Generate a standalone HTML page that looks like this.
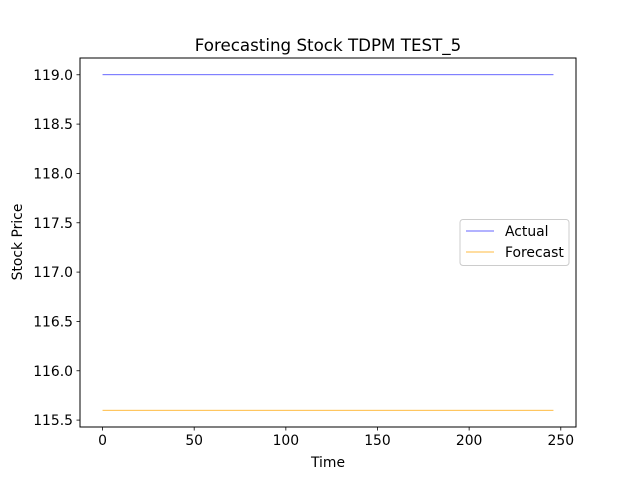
<!DOCTYPE html>
<html><head><meta charset="utf-8"><style>
body{margin:0;background:#fff}
svg text{font-family:"DejaVu Sans","Liberation Sans",sans-serif;fill:#000}
</style></head><body>
<svg id="chart" width="640" height="480" xmlns="http://www.w3.org/2000/svg">
<rect width="640" height="480" fill="#fff"/>
<text x="328" y="51" font-size="16.7" text-anchor="middle">Forecasting Stock TDPM TEST_5</text>
<g id="plot"></g>
<rect x="80" y="58" width="496" height="369" fill="none" stroke="#000" stroke-width="1"/>
<text x="328" y="467" font-size="13.9" text-anchor="middle">Time</text>
<text x="0" y="0" font-size="13.9" text-anchor="middle" transform="translate(22,242) rotate(-90)">Stock Price</text>
<g>
<rect x="460" y="219.5" width="109" height="46" rx="3" fill="#fff" fill-opacity="0.8" stroke="#ccc"/>
<line x1="466" y1="231" x2="494" y2="231" stroke="blue" stroke-width="0.8" stroke-opacity="0.8"/>
<text x="505" y="236" font-size="13.9">Actual</text>
<line x1="466" y1="252" x2="494" y2="252" stroke="orange" stroke-width="0.8"/>
<text x="505" y="257" font-size="13.9">Forecast</text>
</g>
</svg>
<script>
const N = 247;
const actualValues = new Array(N).fill(119.0);
const forecastValues = new Array(N).fill(115.6);
const xTicks = [0, 50, 100, 150, 200, 250];
const yTicks = [115.5, 116.0, 116.5, 117.0, 117.5, 118.0, 118.5, 119.0];
const yTickLabels = ["115.5","116.0","116.5","117.0","117.5","118.0","118.5","119.0"];

const L=80,R=576,T=58,B=427;
const xmin=-12.3,xmax=258.3,ymin=115.43,ymax=119.17;
const sx=v=>L+(v-xmin)/(xmax-xmin)*(R-L);
const sy=v=>B-(v-ymin)/(ymax-ymin)*(B-T);
const NS="http://www.w3.org/2000/svg";
const g=document.getElementById('plot');
function mk(t,a){const e=document.createElementNS(NS,t);for(const k in a)e.setAttribute(k,a[k]);return e;}
xTicks.forEach(v=>{
  const l=mk('line',{x1:sx(v),x2:sx(v),y1:B,y2:B+3.5,stroke:'#000','stroke-width':0.8});
  
  
  g.appendChild(l);
  const t=mk('text',{x:sx(v),y:B+18,'font-size':13.9,'text-anchor':'middle'});
  t.textContent=v;
  
  
  g.appendChild(t);
});
yTicks.forEach((v,i)=>{
  const l=mk('line',{x1:L-3.5,x2:L,y1:sy(v),y2:sy(v),stroke:'#000','stroke-width':0.8});
  
  
  g.appendChild(l);
  const t=mk('text',{x:L-7,y:sy(v)+5,'font-size':13.9,'text-anchor':'end'});
  t.textContent=yTickLabels[i];
  
  
  g.appendChild(t);
});
function series(vals,color,name,op){
  const pts=vals.map((v,i)=>sx(i).toFixed(2)+','+sy(v).toFixed(2)).join(' ');
  const p=mk('polyline',{points:pts,fill:'none',stroke:color,'stroke-width':0.8,'stroke-opacity':op});
  
  
  g.appendChild(p);
}
series(actualValues,'blue','actual-line',0.8);
series(forecastValues,'orange','forecast-line',1);
</script>
</body></html>
